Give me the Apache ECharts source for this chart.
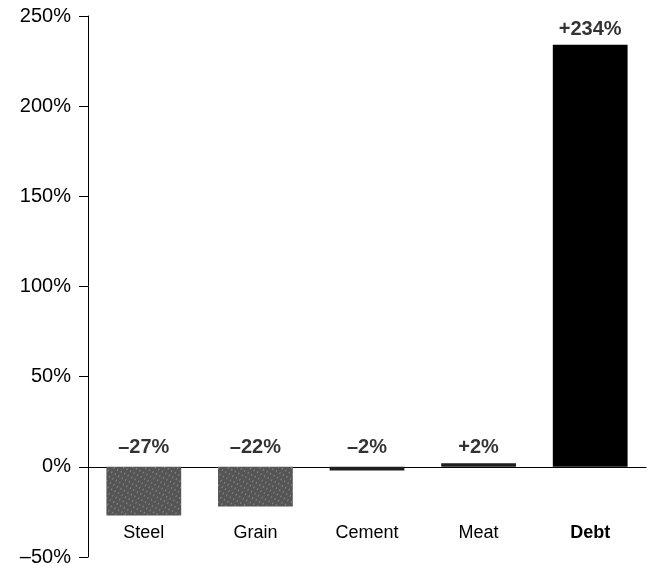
<!DOCTYPE html>
<html>
<head>
<meta charset="utf-8">
<script src="https://cdn.jsdelivr.net/npm/echarts@6/dist/echarts.min.js"></script>
<style>html,body{margin:0;padding:0;background:#fff}#c{width:649px;height:566px}</style>
</head>
<body>
<div id="c"></div>
<script>
const categories = ['Steel', 'Grain', 'Cement', 'Meat', 'Debt'];
const changes = [-27, -22, -2, 2, 234];
const changeLabels = ['\u201327%', '\u201322%', '\u20132%', '+2%', '+234%'];
const barColors = ['#555555', '#555555', '#1e1e1e', '#1e1e1e', '#000000'];
const yTicks = [-50, 0, 50, 100, 150, 200, 250];

const FONT = '"Liberation Sans", Arial, Helvetica, sans-serif';
const chart = echarts.init(document.getElementById('c'), null, {renderer: 'canvas'});

const texture = {
  symbol: 'rect',
  symbolSize: 1,
  color: 'rgba(190,190,190,0.45)',
  dashArrayX: [1, 3],
  dashArrayY: [2, 3],
  rotation: 0.5
};

chart.setOption({
  animation: false,
  grid: {left: 88, right: 3, top: 16, bottom: 9, outerBoundsMode: 'none', containLabel: false},
  xAxis: {
    type: 'category',
    data: categories,
    axisLine: {onZero: true, lineStyle: {color: '#000', width: 1}},
    axisTick: {show: false},
    axisLabel: {
      margin: -33,
      color: '#000',
      fontFamily: FONT,
      fontSize: 18,
      formatter: function (v) { return v === 'Debt' ? '{b|' + v + '}' : v; },
      rich: {b: {fontWeight: 'bold', fontSize: 18, fontFamily: FONT, color: '#000'}}
    }
  },
  yAxis: {
    type: 'value',
    min: -50,
    max: 250,
    interval: 50,
    axisLine: {show: true, lineStyle: {color: '#000', width: 1}},
    axisTick: {show: true, length: 9, lineStyle: {color: '#000'}},
    splitLine: {show: false},
    axisLabel: {
      margin: 17,
      color: '#000',
      fontFamily: FONT,
      fontSize: 20,
      formatter: function (v) { return (v < 0 ? '\u2013' + Math.abs(v) : v) + '%'; }
    }
  },
  series: [
    {
      type: 'bar',
      barWidth: '67%',
      data: changes.map(function (v, i) {
        const item = {value: v, itemStyle: {color: barColors[i]}};
        if (i < 2) item.itemStyle.decal = texture;
        return item;
      })
    },
    {
      type: 'scatter',
      symbolSize: 0,
      silent: true,
      data: changes.map(function (v, i) {
        return {
          value: [categories[i], Math.max(v, 0)],
          label: {distance: v > 100 ? 5 : (v > 0 ? 6 : 9)}
        };
      }),
      label: {
        show: true,
        position: 'top',
        color: '#000',
        fontFamily: FONT,
        fontWeight: 'bold',
        fontSize: 20,
        formatter: function (p) { return changeLabels[p.dataIndex]; }
      }
    }
  ]
});
</script>
</body>
</html>
